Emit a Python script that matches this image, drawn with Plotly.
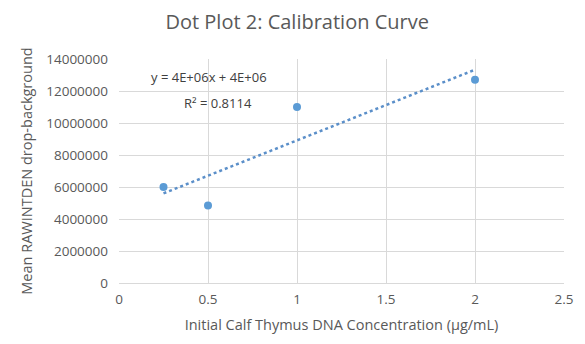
import numpy as np
import plotly.graph_objects as go

concentration = [0.25, 0.5, 1.0, 2.0]
rawintden = [6000000, 4850000, 11000000, 12700000]
x_ticks = [0, 0.5, 1, 1.5, 2, 2.5]
y_ticks = [0, 2000000, 4000000, 6000000, 8000000, 10000000, 12000000, 14000000]

slope, intercept = np.polyfit(concentration, rawintden, 1)
trend_x = [min(concentration), max(concentration)]
trend_y = [slope * v + intercept for v in trend_x]

blue = "#5b9bd5"
grey_text = "#595959"
font = "Open Sans, Liberation Sans, sans-serif"

L, R, T, B = 119, 16, 59, 61
W, H = 585, 344
pw, ph = W - L - R, H - T - B


def px(xp):
    return (xp - L) / pw


def py(yp):
    return 1 - (yp - T) / ph


fig = go.Figure()
fig.add_trace(go.Scatter(x=trend_x, y=trend_y, mode="lines",
                         line=dict(color="#5b8fc9", width=2.5, dash="dot"),
                         hoverinfo="skip", showlegend=False))
fig.add_trace(go.Scatter(x=concentration, y=rawintden, mode="markers",
                         marker=dict(color=blue, size=8), showlegend=False))

fig.add_annotation(x=px(210), y=py(77), xref="paper", yref="paper",
                   xanchor="center", yanchor="middle", text="y = 4E+06x + 4E+06",
                   showarrow=False, font=dict(size=13, color="#404040", family=font))
fig.add_annotation(x=px(219), y=py(103), xref="paper", yref="paper",
                   xanchor="center", yanchor="middle", text="R² = 0.8114",
                   showarrow=False, font=dict(size=13, color="#404040", family=font))

fig.update_layout(
    width=W, height=H,
    margin=dict(l=L, r=R, t=T, b=B),
    paper_bgcolor="white", plot_bgcolor="white",
    title=dict(text="Dot Plot 2: Calibration Curve", x=0.508, xanchor="center",
               y=1 - 22 / H, yanchor="middle",
               font=dict(size=20, color=grey_text, family=font)),
    font=dict(family=font, color=grey_text, size=12),
    xaxis=dict(range=[0, 2.5], tickvals=x_ticks, ticktext=[str(v) for v in x_ticks],
               showgrid=True, gridcolor="#d9d9d9", gridwidth=1,
               zeroline=False, showline=True, linecolor="#d9d9d9",
               ticks="", ticklen=0, ticklabelstandoff=4,
               title=dict(text="Initial Calf Thymus DNA Concentration (µg/mL)",
                          font=dict(size=14.5, color=grey_text), standoff=12),
               tickfont=dict(size=13.5, color=grey_text)),
    yaxis=dict(range=[0, 14000000], tickvals=y_ticks, ticktext=[str(v) for v in y_ticks],
               showgrid=True, gridcolor="#d9d9d9", gridwidth=1,
               zeroline=False, showline=False, ticks="", ticklabelstandoff=10,
               title=dict(text="Mean RAWINTDEN drop-background",
                          font=dict(size=14.5, color=grey_text), standoff=10),
               tickfont=dict(size=13.5, color=grey_text)),
)

fig.write_html("out.html")
